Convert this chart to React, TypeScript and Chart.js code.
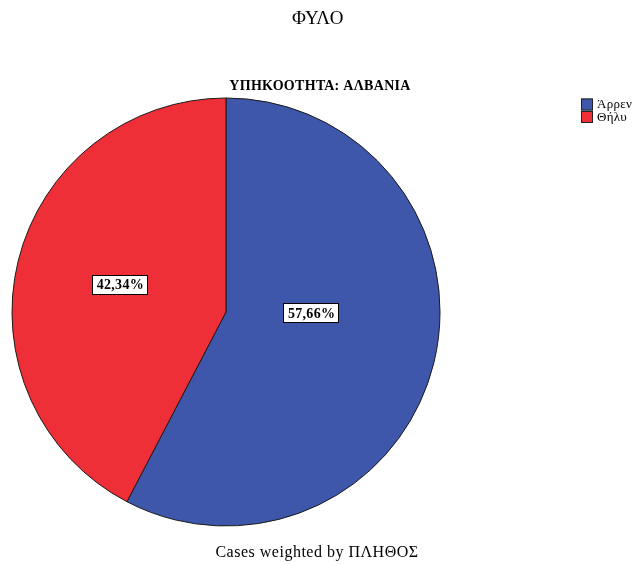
import React, { useEffect, useRef } from "react";
import { Chart, registerables } from "chart.js";

Chart.register(...registerables);

const titleText = "ΦΥΛΟ";
const subtitleText = "ΥΠΗΚΟΟΤΗΤΑ: ΑΛΒΑΝΙΑ";
const footerText = "Cases weighted by ΠΛΗΘΟΣ";
const categories = ["Άρρεν", "Θήλυ"];
const percentages = [57.66, 42.34];
const percentLabels = ["57,66%", "42,34%"];

const colors = ["#3F57AA", "#EE2F37"];
const SERIF = '"Liberation Serif", "DejaVu Serif", serif';
// label placement: [angle in degrees clockwise from top, radial fraction]
const labelPlacement = [
  [90.7, 0.40],
  [284.5, 0.51],
];

const overlayPlugin = {
  id: "overlay",
  afterDraw(chart: any) {
    const ctx = chart.ctx as CanvasRenderingContext2D;
    ctx.save();
    ctx.fillStyle = "#000";
    ctx.textAlign = "center";
    ctx.textBaseline = "middle";
    ctx.font = `19px ${SERIF}`;
    (ctx as any).letterSpacing = "0.5px";
    ctx.fillText(titleText, 318, 19);
    ctx.font = `bold 14px ${SERIF}`;
    (ctx as any).letterSpacing = "0.3px";
    ctx.fillText(subtitleText, 320, 86);
    ctx.font = `16px ${SERIF}`;
    (ctx as any).letterSpacing = "0.5px";
    ctx.fillText(footerText, 317, 553);

    // legend
    ctx.textAlign = "left";
    ctx.font = `13px ${SERIF}`;
    (ctx as any).letterSpacing = "0.3px";
    categories.forEach((c, i) => {
      const y = 98.5 + i * 12.5;
      ctx.fillStyle = colors[i];
      ctx.fillRect(581, y, 12, 12);
      ctx.strokeStyle = "#222";
      ctx.lineWidth = 1;
      ctx.strokeRect(581.5, y + 0.5, 11, 11);
      ctx.fillStyle = "#000";
      ctx.fillText(c, 597, y + 6.5);
    });

    // data labels
    (ctx as any).letterSpacing = "0.3px";
    const meta = chart.getDatasetMeta(0);
    meta.data.forEach((arc: any, i: number) => {
      const [deg, frac] = labelPlacement[i];
      const a = (deg * Math.PI) / 180;
      const r = arc.outerRadius * frac;
      const x = arc.x + r * Math.sin(a);
      const y = arc.y - r * Math.cos(a);
      ctx.font = `bold 14px ${SERIF}`;
      const w = ctx.measureText(percentLabels[i]).width + 9;
      const h = 20;
      ctx.fillStyle = "#fff";
      ctx.fillRect(Math.round(x - w / 2), Math.round(y - h / 2), Math.round(w), h);
      ctx.strokeStyle = "#000";
      ctx.lineWidth = 1;
      ctx.strokeRect(Math.round(x - w / 2) + 0.5, Math.round(y - h / 2) + 0.5, Math.round(w) - 1, h - 1);
      ctx.fillStyle = "#000";
      ctx.textAlign = "center";
      ctx.fillText(percentLabels[i], x, y + 1);
    });
    ctx.restore();
  },
};

export default function App() {
  const ref = useRef<HTMLCanvasElement>(null);
  useEffect(() => {
    const chart = new Chart(ref.current!, {
      type: "pie",
      data: {
        labels: categories,
        datasets: [
          {
            data: percentages,
            backgroundColor: colors,
            borderColor: "#1a1a1a",
            borderWidth: 1,
            hoverOffset: 0,
          },
        ],
      },
      options: {
        responsive: false,
        animation: false,
        layout: { padding: { left: 11.5, right: 194.5, top: 97.5, bottom: 38.5 } },
        plugins: {
          legend: { display: false },
          title: { display: false },
          tooltip: { enabled: false },
        },
      },
      plugins: [overlayPlugin],
    });
    return () => chart.destroy();
  }, []);
  return (
    <div style={{ position: "absolute", left: 0, top: 0, width: 635, height: 565, background: "#fff" }}>
      <canvas ref={ref} width={635} height={565} />
    </div>
  );
}
